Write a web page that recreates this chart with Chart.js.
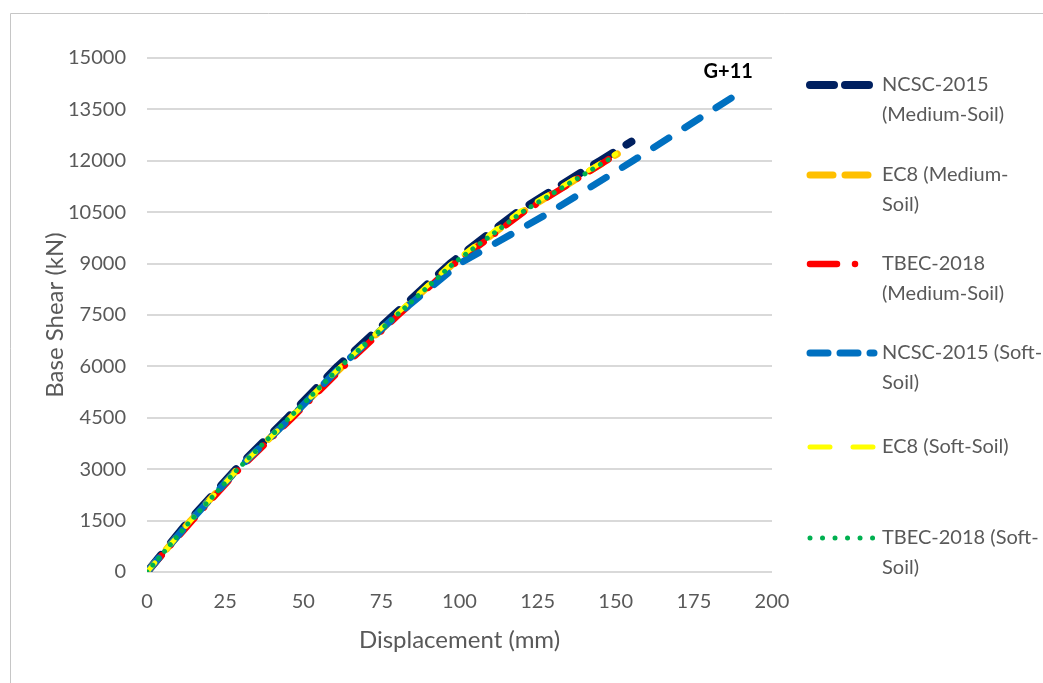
<!DOCTYPE html>
<html>
<head>
<meta charset="utf-8">
<script src="https://cdn.jsdelivr.net/npm/chart.js@4.4.0/dist/chart.umd.min.js"></script>
<style>
  html, body { margin: 0; padding: 0; background: #ffffff; }
  canvas { display: block; }
</style>
</head>
<body>
<canvas id="pushover" width="1043" height="683"></canvas>
<script>
// Pushover curves (G+11): displacement in mm, base shear in kN
const seriesNames = [
  "NCSC-2015 (Medium-Soil)",
  "EC8 (Medium-Soil)",
  "TBEC-2018 (Medium-Soil)",
  "NCSC-2015 (Soft-Soil)",
  "EC8 (Soft-Soil)",
  "TBEC-2018 (Soft-Soil)"
];
const legendLines = [
  ["NCSC-2015", "(Medium-Soil)"],
  ["EC8 (Medium-", "Soil)"],
  ["TBEC-2018", "(Medium-Soil)"],
  ["NCSC-2015 (Soft-", "Soil)"],
  ["EC8 (Soft-Soil)"],
  ["TBEC-2018 (Soft-", "Soil)"]
];

const dispNcscMedium  = [0, 13.5, 28.5, 45, 61, 79, 97, 118.5, 145, 155];
const shearNcscMedium = [0, 1500, 3000, 4500, 6000, 7500, 9000, 10500, 12000, 12560];

const dispEc8Medium   = [0, 14, 29, 46, 62.5, 80, 98, 120, 147, 150.5];
const shearEc8Medium  = [0, 1500, 3000, 4500, 6000, 7500, 9000, 10500, 12000, 12200];

const dispTbecMedium  = [0, 14.5, 29.5, 46.5, 63, 80.5, 98.5, 120.5, 147, 151];
const shearTbecMedium = [0, 1500, 3000, 4500, 6000, 7500, 9000, 10500, 12000, 12250];

const dispNcscSoft    = [0, 14, 29, 46, 62, 80, 100, 129, 155.5, 189.5];
const shearNcscSoft   = [0, 1500, 3000, 4500, 6000, 7500, 9000, 10500, 12000, 13980];

const dispEc8Soft     = [0, 14, 29, 46, 62, 79.5, 97.5, 119, 146.5, 150];
const shearEc8Soft    = [0, 1500, 3000, 4500, 6000, 7500, 9000, 10500, 12000, 12200];

const dispTbecSoft    = [0, 14, 29, 45.5, 62, 80, 98, 120, 147, 149];
const shearTbecSoft   = [0, 1500, 3000, 4500, 6000, 7500, 9000, 10500, 12000, 12100];

const xTickValues = [0, 25, 50, 75, 100, 125, 150, 175, 200];
const yTickValues = [0, 1500, 3000, 4500, 6000, 7500, 9000, 10500, 12000, 13500, 15000];

const buildingLabel = "G+11";
const buildingLabelAt = { x: 186, y: 14600 };

const FONT = "Lato, 'Open Sans', sans-serif";
const TEXT_GREY = "#595959";

const toPoints = (xs, ys) => xs.map((x, i) => ({ x: x, y: ys[i] }));

// line styles: colour, width, dash in plot, dash in legend sample
const styles = [
  { color: "#002060", width: 8,   dash: [22, 16],           legendDash: [24, 11] },
  { color: "#FFC000", width: 7,   dash: [14, 16],           legendDash: [23, 12] },
  { color: "#FF0000", width: 6.5, dash: [22, 14, 0.01, 14], legendDash: [27, 18, 0.01, 30] },
  { color: "#0070C0", width: 7,   dash: [18, 19],           legendDash: [18, 12] },
  { color: "#FFFF00", width: 5,   dash: [12, 18],           legendDash: [20, 23] },
  { color: "#00B050", width: 5,   dash: [0.01, 9],          legendDash: [0.01, 12.5] }
];

const seriesData = [
  toPoints(dispNcscMedium, shearNcscMedium),
  toPoints(dispEc8Medium, shearEc8Medium),
  toPoints(dispTbecMedium, shearTbecMedium),
  toPoints(dispNcscSoft, shearNcscSoft),
  toPoints(dispEc8Soft, shearEc8Soft),
  toPoints(dispTbecSoft, shearTbecSoft)
];

const datasets = seriesData.map((pts, i) => ({
  label: seriesNames[i],
  data: pts,
  borderColor: styles[i].color,
  backgroundColor: styles[i].color,
  borderWidth: styles[i].width,
  borderDash: styles[i].dash,
  borderCapStyle: "round",
  borderJoinStyle: "round",
  pointRadius: 0,
  pointHoverRadius: 0,
  tension: 0,
  fill: false,
  // later series sit on top of earlier ones
  order: seriesData.length - i
}));

// frame on the left and top edges of the figure
const framePlugin = {
  id: "frame",
  beforeDraw(chart) {
    const ctx = chart.ctx;
    ctx.save();
    ctx.fillStyle = "#ffffff";
    ctx.fillRect(0, 0, chart.width, chart.height);
    ctx.strokeStyle = "#c6c6c6";
    ctx.lineWidth = 1;
    ctx.beginPath();
    ctx.moveTo(10.5, chart.height);
    ctx.lineTo(10.5, 13.5);
    ctx.lineTo(chart.width, 13.5);
    ctx.stroke();
    ctx.restore();
  }
};

// two-line legend entries on the right
const sideLegendPlugin = {
  id: "sideLegend",
  afterDraw(chart) {
    const ctx = chart.ctx;
    const rowY = [85, 175, 264, 353, 447, 538];
    const sampleX0 = 810, sampleX1 = 874, textX = 882, lineGap = 30;
    ctx.save();
    styles.forEach((st, i) => {
      const y = rowY[i];
      ctx.strokeStyle = st.color;
      ctx.lineWidth = st.width;
      ctx.lineCap = "round";
      ctx.setLineDash(st.legendDash);
      ctx.beginPath();
      ctx.moveTo(sampleX0, y);
      ctx.lineTo(sampleX1, y);
      ctx.stroke();
      ctx.setLineDash([]);
      ctx.fillStyle = TEXT_GREY;
      ctx.font = "20px " + FONT;
      ctx.textAlign = "left";
      ctx.textBaseline = "middle";
      legendLines[i].forEach((ln, k) => ctx.fillText(ln, textX, y + k * lineGap));
    });
    ctx.restore();
  }
};

// building tag near the end of the longest curve
const tagPlugin = {
  id: "tag",
  afterDatasetsDraw(chart) {
    const ctx = chart.ctx;
    const xs = chart.scales.x, ys = chart.scales.y;
    ctx.save();
    ctx.fillStyle = "#000000";
    ctx.font = "bold 20px " + FONT;
    ctx.textAlign = "center";
    ctx.textBaseline = "middle";
    ctx.fillText(buildingLabel, xs.getPixelForValue(buildingLabelAt.x), ys.getPixelForValue(buildingLabelAt.y));
    ctx.restore();
  }
};

new Chart(document.getElementById("pushover"), {
  type: "line",
  data: { datasets: datasets },
  options: {
    responsive: false,
    animation: false,
    events: [],
    layout: { padding: { left: 0, right: 271, top: 58, bottom: 0 } },
    plugins: {
      legend: { display: false },
      tooltip: { enabled: false },
      title: { display: false }
    },
    scales: {
      x: {
        type: "linear",
        min: 0,
        max: 200,
        afterBuildTicks: (scale) => { scale.ticks = xTickValues.map(v => ({ value: v })); },
        afterFit: (scale) => { scale.height = 111; },
        ticks: {
          color: TEXT_GREY, font: { family: FONT, size: 20 }, padding: 18,
          maxRotation: 0, autoSkip: false, callback: (v) => String(v)
        },
        grid: { display: false, drawTicks: false },
        border: { display: false },
        title: {
          display: true,
          text: "Displacement (mm)",
          color: TEXT_GREY,
          font: { family: FONT, size: 24 },
          padding: { top: 0, bottom: 28 }
        }
      },
      y: {
        type: "linear",
        min: 0,
        max: 15000,
        afterBuildTicks: (scale) => { scale.ticks = yTickValues.map(v => ({ value: v })); },
        afterFit: (scale) => { scale.width = 147; },
        ticks: {
          color: TEXT_GREY, font: { family: FONT, size: 20 }, padding: 21,
          autoSkip: false, callback: (v) => String(v)
        },
        grid: { color: "#d9d9d9", lineWidth: 2, drawTicks: false },
        border: { display: false },
        title: {
          display: true,
          text: "Base Shear (kN)",
          color: TEXT_GREY,
          font: { family: FONT, size: 24 },
          padding: { top: 41, bottom: 0 }
        }
      }
    }
  },
  plugins: [framePlugin, sideLegendPlugin, tagPlugin]
});
</script>
</body>
</html>
